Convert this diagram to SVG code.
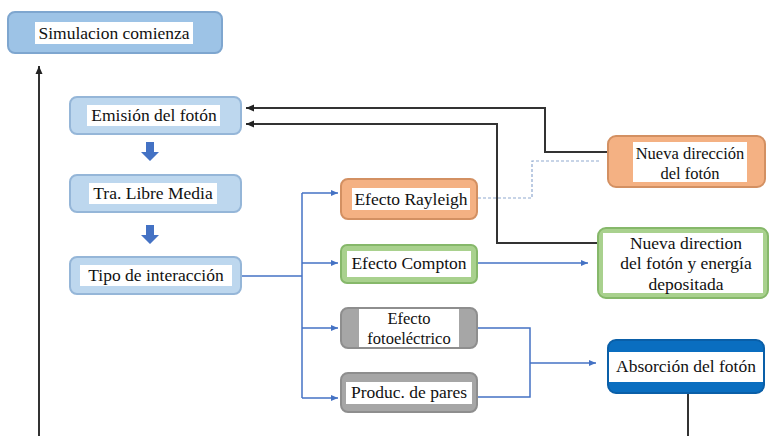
<svg xmlns="http://www.w3.org/2000/svg" width="769" height="436" viewBox="0 0 769 436" font-family="'Liberation Serif', 'DejaVu Serif', serif">
<defs>
<marker id="ab" markerWidth="8" markerHeight="8" refX="7" refY="4" orient="auto" markerUnits="userSpaceOnUse"><path d="M0,1 L7,4 L0,7 Z" fill="#4472C4"/></marker>
<marker id="ak" markerWidth="10" markerHeight="10" refX="8" refY="4" orient="auto" markerUnits="userSpaceOnUse"><path d="M0,0.5 L8,4 L0,7.5 Z" fill="#222"/></marker>
<style>
text{font-family:'Liberation Serif','DejaVu Serif',serif;font-size:17.5px;fill:#111;text-anchor:middle}
.sm{font-size:16.5px}
.tb{fill:#fff}
.b1{fill:#9DC3E6;stroke:#7EA6CF;stroke-width:2}
.b2{fill:#BDD7EE;stroke:#95B6D8;stroke-width:2}
.or{fill:#F4B183;stroke:#D39062;stroke-width:2}
.gr{fill:#A9D18E;stroke:#86B86A;stroke-width:2}
.gy{fill:#A6A6A6;stroke:#8E8E8E;stroke-width:2}
.bl{fill:#0A6EC0;stroke:#0A5FA8;stroke-width:2}
.cb{fill:none;stroke:#4472C4;stroke-width:1.5}
.ck{fill:none;stroke:#333;stroke-width:2}
.cd{fill:none;stroke:#8FA9D0;stroke-width:1.2;stroke-dasharray:3,2}
</style>
</defs>
<g id="connectors">
<path class="ck" d="M39,436 V66" marker-end="url(#ak)"/>
<path class="ck" d="M608,152 H545 V108 H246" marker-end="url(#ak)"/>
<path class="ck" d="M598,243 H497 V124 H246" marker-end="url(#ak)"/>
<path class="cd" d="M478,198 H532 V161 H600"/>
<path class="ck" d="M688,393 V436"/>
<path class="cb" d="M242,276 H302"/>
<path class="cb" d="M302,193 V398"/>
<path class="cb" d="M302,193 H338" marker-end="url(#ab)"/>
<path class="cb" d="M302,263 H338" marker-end="url(#ab)"/>
<path class="cb" d="M302,328 H338" marker-end="url(#ab)"/>
<path class="cb" d="M302,398 H338" marker-end="url(#ab)"/>
<path class="cb" d="M478,263 H588" marker-end="url(#ab)"/>
<path class="cb" d="M478,328 H530 V397 H478"/>
<path class="cb" d="M530,363 H596" marker-end="url(#ab)"/>
<path d="M146,142 h8 v10 h5 l-9,9 l-9,-9 h5 z" fill="#4472C4"/>
<path d="M146,225 h8 v10 h5 l-9,9 l-9,-9 h5 z" fill="#4472C4"/>
</g>
<g id="n-sim"><rect class="b1" x="8" y="12" width="214" height="41" rx="7"/><rect class="tb" x="35" y="22" width="158" height="22"/><text x="114" y="39">Simulacion comienza</text></g>
<g id="n-emision"><rect class="b2" x="70" y="97" width="171" height="37" rx="7"/><rect class="tb" x="87" y="105" width="133" height="21"/><text x="154" y="121">Emisión del fotón</text></g>
<g id="n-tra"><rect class="b2" x="70" y="175" width="171" height="37" rx="7"/><rect class="tb" x="89" y="183" width="128" height="21"/><text x="153" y="199">Tra. Libre Media</text></g>
<g id="n-tipo"><rect class="b2" x="70" y="257" width="171" height="37" rx="7"/><rect class="tb" x="80" y="265" width="152" height="21"/><text x="156" y="281">Tipo de interacción</text></g>
<g id="n-rayleigh"><rect class="or" x="341" y="179" width="136" height="40" rx="7"/><rect class="tb" x="352" y="188" width="118" height="22"/><text x="411" y="205">Efecto Rayleigh</text></g>
<g id="n-compton"><rect class="gr" x="341" y="245" width="136" height="38" rx="6"/><rect class="tb" x="347" y="251" width="124" height="26"/><text x="409" y="269">Efecto Compton</text></g>
<g id="n-foto"><rect class="gy" x="341" y="308" width="136" height="40" rx="7"/><rect class="tb" x="359" y="309" width="100" height="38"/><text class="sm" x="409" y="324">Efecto</text><text class="sm" x="409" y="344">fotoeléctrico</text></g>
<g id="n-pares"><rect class="gy" x="341" y="373" width="136" height="39" rx="7"/><rect class="tb" x="346" y="382" width="126" height="22"/><text x="409" y="398">Produc. de pares</text></g>
<g id="n-nueva1"><rect class="or" x="608" y="136" width="157" height="51" rx="8"/><rect class="tb" x="633" y="142" width="114" height="40"/><text class="sm" x="690" y="159">Nueva dirección</text><text class="sm" x="690" y="179">del fotón</text></g>
<g id="n-nueva2"><rect class="gr" x="598" y="228" width="170" height="70" rx="8"/><rect class="tb" x="603" y="233" width="160" height="60"/><text x="686" y="249">Nueva direction</text><text x="686" y="269">del fotón y energía</text><text x="686" y="290">depositada</text></g>
<g id="n-absorcion"><rect class="bl" x="608" y="340" width="156" height="53" rx="8"/><rect class="tb" x="609" y="352" width="154" height="30"/><text x="686" y="372">Absorción del fotón</text></g>
</svg>
